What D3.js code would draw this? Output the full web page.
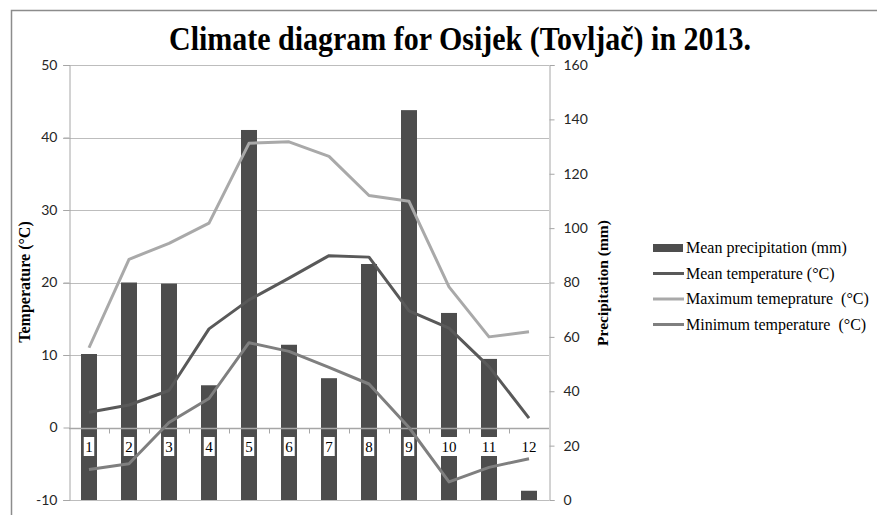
<!DOCTYPE html>
<html>
<head>
<meta charset="utf-8">
<script src="https://cdn.jsdelivr.net/npm/d3@7/dist/d3.min.js"></script>
<style>
  html, body { margin: 0; padding: 0; background: #fff; }
  svg { display: block; }
</style>
</head>
<body>
<svg id="chart" width="877" height="515"></svg>
<script>
// ---- Data ----
const months = ["1","2","3","4","5","6","7","8","9","10","11","12"];
const precipitation = [53.7, 80.0, 79.6, 42.2, 136.1, 57.1, 44.8, 86.8, 143.4, 68.8, 51.9, 3.4];
const meanTemp = [2.1, 3.1, 5.1, 13.6, 17.6, 20.6, 23.7, 23.5, 16.1, 13.7, 8.4, 1.3];
const maxTemp = [11.0, 23.2, 25.4, 28.2, 39.2, 39.4, 37.4, 32.0, 31.2, 19.4, 12.5, 13.2];
const minTemp = [-5.8, -5.0, 0.7, 4.0, 11.7, 10.5, 8.3, 6.0, 0.0, -7.5, -5.5, -4.3];
const tempTicks = [-10, 0, 10, 20, 30, 40, 50];
const precTicks = [0, 20, 40, 60, 80, 100, 120, 140, 160];
const legendLabels = ["Mean precipitation (mm)", "Mean temperature (°C)", "Maximum temeprature  (°C)", "Minimum temperature  (°C)"];

// ---- Layout ----
const svg = d3.select("#chart");
const L = 69, R = 549, T = 65, B = 500;
const gridColor = "#bdbdbd";
const axisColor = "#a6a6a6";
const barColor = "#4d4d4d";
const colMean = "#595959", colMax = "#a9a9a9", colMin = "#7f7f7f";
const tickFont = "Lato, 'Open Sans', sans-serif";
const serif = "'Liberation Serif', 'Times New Roman', serif";

const x = d3.scaleBand().domain(months).range([L, R]).paddingInner(0.6).paddingOuter(0.3);
const yT = d3.scaleLinear().domain([-10, 50]).range([B, T]);
const yP = d3.scaleLinear().domain([0, 160]).range([B, T]);

// chart border (top + left visible)
svg.append("path").attr("d", `M11.5,515 L11.5,10.5 L877,10.5`).attr("fill", "none").attr("stroke", "#8c8c8c").attr("stroke-width", 1.5);

// Title
svg.append("text").attr("x", 460).attr("y", 50).attr("text-anchor", "middle")
  .attr("font-family", serif).attr("font-weight", "bold").attr("font-size", 34)
  .attr("textLength", 582).attr("lengthAdjust", "spacingAndGlyphs")
  .text("Climate diagram for Osijek (Tovljač) in 2013.");

// Gridlines
svg.append("g").selectAll("line").data(tempTicks.filter(d => d !== 0)).join("line")
  .attr("x1", L - 6).attr("x2", R).attr("y1", d => Math.round(yT(d)) + 0.5).attr("y2", d => Math.round(yT(d)) + 0.5)
  .attr("stroke", gridColor).attr("stroke-width", 1);

// Left axis
const leftAxis = d3.axisLeft(yT).tickValues(tempTicks).tickFormat(d => String(d)).tickSize(6).tickPadding(6);
const gL = svg.append("g").attr("transform", `translate(${L + 0.5},0)`).call(leftAxis);
gL.select(".domain").attr("stroke", axisColor);
gL.selectAll(".tick line").attr("stroke", axisColor);
gL.selectAll(".tick text").attr("font-family", tickFont).attr("font-size", 14).attr("fill", "#262626");

// Right axis
const rightAxis = d3.axisRight(yP).tickValues(precTicks).tickFormat(d => String(d)).tickSize(5).tickPadding(9);
const gR = svg.append("g").attr("transform", `translate(${R + 0.5},0)`).call(rightAxis);
gR.select(".domain").attr("stroke", axisColor);
gR.selectAll(".tick line").attr("stroke", axisColor);
gR.selectAll(".tick text").attr("font-family", tickFont).attr("font-size", 14).attr("fill", "#262626");

// Bars
svg.append("g").selectAll("rect").data(precipitation).join("rect")
  .attr("x", (d, i) => x(months[i])).attr("width", x.bandwidth())
  .attr("y", d => yP(d)).attr("height", d => yP(0) - yP(d))
  .attr("fill", barColor);

// Category axis at 0°C
const y0 = Math.round(yT(0)) + 0.5;
svg.append("line").attr("x1", L).attr("x2", R).attr("y1", y0).attr("y2", y0).attr("stroke", axisColor).attr("stroke-width", 1.5);
const step = x.step();
svg.append("g").selectAll("line").data(d3.range(1, 12)).join("line")
  .attr("x1", d => L + d * step + 0.5).attr("x2", d => L + d * step + 0.5)
  .attr("y1", y0).attr("y2", y0 + 5).attr("stroke", axisColor);

// Lines
const cx = i => x(months[i]) + x.bandwidth() / 2;
const lineGen = d3.line().x((d, i) => cx(i)).y(d => yT(d));
[[maxTemp, colMax], [meanTemp, colMean], [minTemp, colMin]].forEach(([data, c]) => {
  svg.append("path").datum(data).attr("d", lineGen).attr("fill", "none")
    .attr("stroke", c).attr("stroke-width", 3).attr("stroke-linejoin", "round");
});

// Category labels with white boxes
const labG = svg.append("g");
months.forEach((m, i) => {
  const g = labG.append("g");
  const t = g.append("text").attr("x", cx(i)).attr("y", 452).attr("text-anchor", "middle")
    .attr("font-family", serif).attr("font-size", 15).attr("fill", "#000").text(m);
  const bb = t.node().getBBox();
  g.insert("rect", "text").attr("x", bb.x - 1.5).attr("y", 437).attr("width", bb.width + 3).attr("height", 19).attr("fill", "#fff");
});

// Axis titles
svg.append("text").attr("transform", `translate(30,282) rotate(-90)`).attr("text-anchor", "middle")
  .attr("font-family", serif).attr("font-weight", "bold").attr("font-size", 16).text("Temperature (°C)");
svg.append("text").attr("transform", `translate(608,283) rotate(-90)`).attr("text-anchor", "middle")
  .attr("font-family", serif).attr("font-weight", "bold").attr("font-size", 15.5).text("Precipitation (mm)");

// Legend
const legY = [248, 273.5, 299, 324.5];
const legG = svg.append("g");
legG.append("rect").attr("x", 653).attr("y", legY[0] - 4).attr("width", 30).attr("height", 8).attr("fill", barColor);
[colMean, colMax, colMin].forEach((c, i) => {
  legG.append("line").attr("x1", 653).attr("x2", 684).attr("y1", legY[i + 1]).attr("y2", legY[i + 1])
    .attr("stroke", c).attr("stroke-width", 3);
});
legendLabels.forEach((s, i) => {
  legG.append("text").attr("x", 686).attr("y", legY[i] + 5).attr("font-family", serif).attr("font-size", 16)
    .attr("fill", "#000").attr("xml:space", "preserve").style("white-space", "pre").text(s);
});
</script>
</body>
</html>
